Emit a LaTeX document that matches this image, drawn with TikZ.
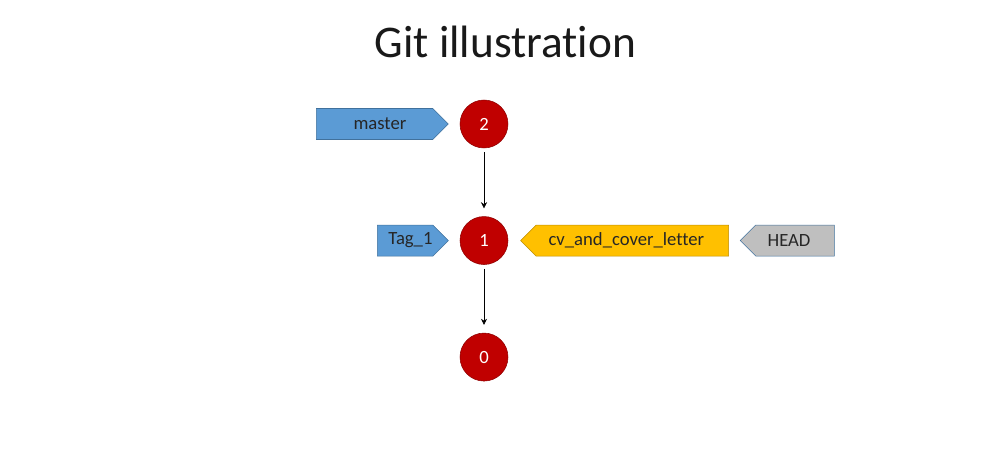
\documentclass[tikz,border=0pt]{standalone}
\usepackage{fontspec}
\setmainfont{Carlito}[Ligatures=CommonOff]
\usetikzlibrary{positioning}
\usetikzlibrary{shapes.symbols}
\usetikzlibrary{arrows.meta}
\definecolor{commitred}{HTML}{C00000}
\definecolor{commitedge}{HTML}{8F0000}
\definecolor{branchblue}{HTML}{5B9BD5}
\definecolor{branchedge}{HTML}{41719C}
\definecolor{branchgold}{HTML}{FFC000}
\definecolor{goldedge}{HTML}{BC8C00}
\definecolor{headgray}{HTML}{BFBFBF}
\tikzset{%
  parentarrow/.style = {-{Stealth[length=4.5pt,width=4.5pt]},thin,
        shorten <=3pt,shorten >=6pt},
  commit/.style = {circle,draw=commitedge,fill=commitred,text=white,
        minimum size=36pt,inner sep=0pt},
  reftag/.style = {signal,draw,signal pointer angle=90,inner sep=0pt,
        minimum height=23.25pt,text=black!85},
  toright/.style = {reftag,signal to=east,fill=branchblue,draw=branchedge,
        execute at begin node=\hspace*{8pt}},
  toleft/.style = {reftag,signal to=west,
        execute at end node=\hspace*{9pt}}
}
\begin{document}
\begin{tikzpicture}[node distance=51pt and 8.25pt]\fontsize{14}{16}\selectfont
   \useasboundingbox (0,0) rectangle (756pt,348pt);
   \node[font=\fontsize{34}{40}\selectfont,text=black!90] (title) at (379pt,316.5pt) {Git illustration};
   \node[commit] (c2) at (363pt,255pt) {2};
   \node[commit] (c1) [below=of c2] {1};
   \node[commit] (c0) [below=of c1] {0};
   \node[toright,minimum width=99pt] (master) [left=of c2] {master};
   \node[toright,minimum width=53.25pt] (tag1) [left=of c1] {Tag\_1};
   \node[toleft,fill=branchgold,draw=goldedge,minimum width=156pt] (cv) [right=9pt of c1] {cv\_and\_cover\_letter};
   \node[toleft,fill=headgray,draw=branchedge,minimum width=70.5pt] (head) [right=of cv] {HEAD};

   \draw[parentarrow] (c2) -- (c1);
   \draw[parentarrow] (c1) -- (c0);
\end{tikzpicture}
\end{document}
